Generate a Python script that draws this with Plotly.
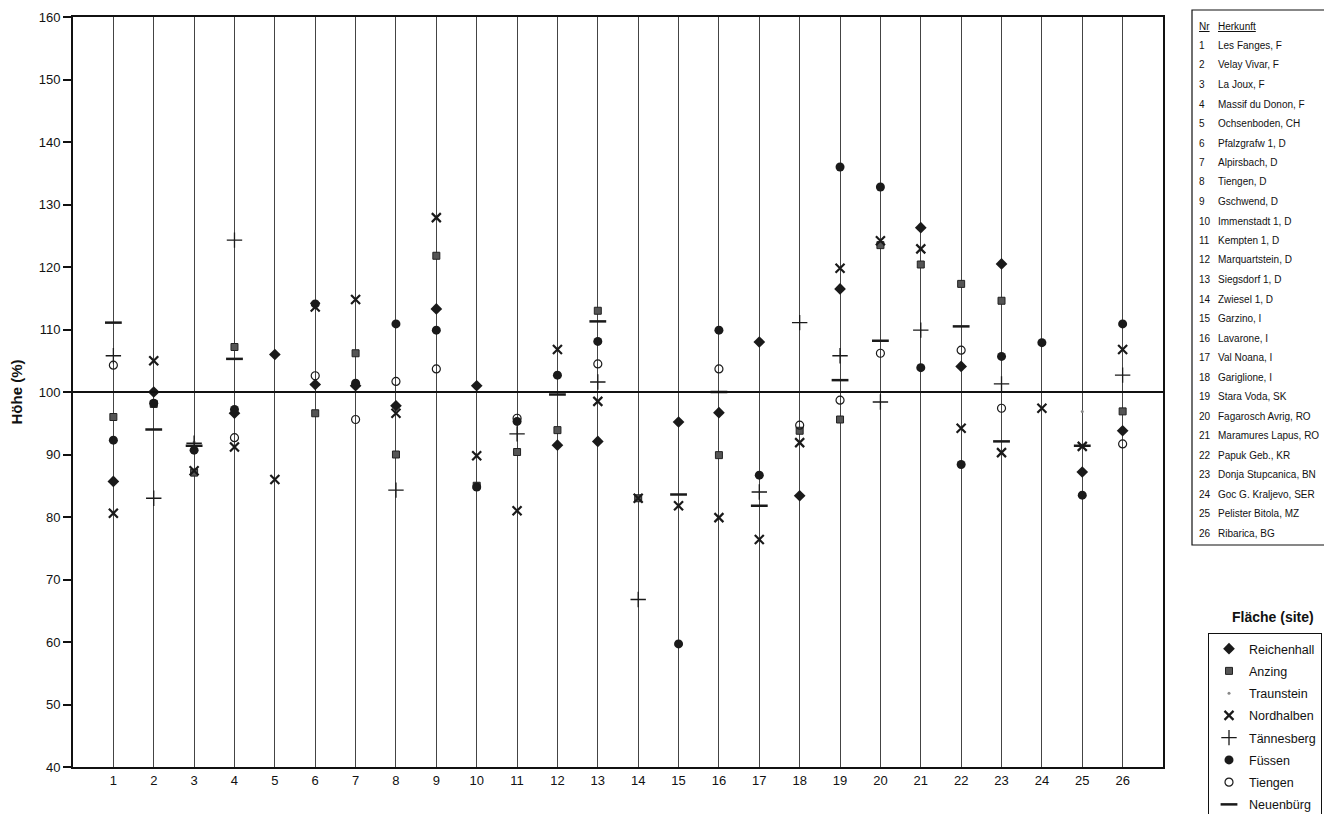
import plotly.graph_objects as go

# ---------------- data ----------------
categories = list(range(1, 27))
N = None
reichenhall = [85.7, 100.0, N, 96.6, 106.0, 101.2, 101.0, 97.8, 113.3, 101.0, N, 91.5, 92.1, N, 95.2, 96.7, 108.0, 83.4, 116.5, N, 126.3, 104.1, 120.5, N, 87.2, 93.8]
anzing      = [96.0, 98.1, 87.1, 107.2, N, 96.6, 106.2, 90.0, 121.8, 85.0, 90.4, 93.9, 113.0, 83.0, N, 89.9, N, 93.8, 95.6, 123.5, 120.4, 117.3, 114.6, N, N, 96.9]
traunstein  = [N, N, 92.0, N, N, N, N, N, N, N, N, N, N, N, N, N, N, N, N, N, N, N, N, N, 96.9, N]
nordhalben  = [80.6, 105.0, 87.4, 91.2, 86.0, 113.6, 114.8, 96.6, 127.9, 89.8, 81.0, 106.8, 98.5, 83.0, 81.8, 79.9, 76.4, 91.9, 119.8, 124.2, 122.9, 94.2, 90.3, 97.4, 91.3, 106.8]
taennesberg = [105.8, 83.0, 91.8, 124.3, N, N, N, 84.3, N, N, 93.3, N, 101.6, 66.8, N, N, 84.0, 111.1, 105.8, 98.4, 109.9, N, 101.3, N, N, 102.7]
fuessen     = [92.3, 98.2, 90.7, 97.2, N, 114.1, 101.4, 110.9, 109.9, 84.8, 95.3, 102.7, 108.1, N, 59.7, 109.9, 86.7, N, 136.0, 132.8, 103.9, 88.4, 105.7, 107.9, 83.5, 110.9]
tiengen     = [104.3, N, N, 92.7, N, 102.6, 95.6, 101.7, 103.7, N, 95.8, N, 104.5, N, N, 103.7, N, 94.7, 98.7, 106.2, N, 106.7, 97.4, N, N, 91.7]
neuenbuerg  = [111.1, 94.0, 91.4, 105.3, N, N, N, N, N, N, N, 99.6, 111.3, N, 83.6, 100.0, 81.8, N, 101.9, 108.2, N, 110.5, 92.1, N, 91.4, N]

y_ticks = list(range(40, 161, 10))

nr_list = [str(i) for i in categories]
herkunft = ["Les Fanges, F", "Velay Vivar, F", "La Joux, F", "Massif du Donon, F", "Ochsenboden, CH",
            "Pfalzgrafw 1, D", "Alpirsbach, D", "Tiengen, D", "Gschwend, D", "Immenstadt 1, D",
            "Kempten 1, D", "Marquartstein, D", "Siegsdorf 1, D", "Zwiesel 1, D", "Garzino, I",
            "Lavarone, I", "Val Noana, I", "Gariglione, I", "Stara Voda, SK", "Fagarosch Avrig, RO",
            "Maramures Lapus, RO", "Papuk Geb., KR", "Donja Stupcanica, BN", "Goc G. Kraljevo, SER",
            "Pelister Bitola, MZ", "Ribarica, BG"]

series = [
    ("Reichenhall", reichenhall, dict(symbol="diamond", size=9, color="#1a1a1a")),
    ("Anzing", anzing, dict(symbol="square", size=7, color="#555555", line=dict(color="#222", width=1))),
    ("Traunstein", traunstein, dict(symbol="circle", size=3, color="#888888")),
    ("Nordhalben", nordhalben, dict(symbol="x-thin", size=9, color="#1a1a1a", line=dict(color="#1a1a1a", width=2.2))),
    ("Tännesberg", taennesberg, dict(symbol="cross-thin", size=11, color="#1a1a1a", line=dict(color="#1a1a1a", width=1.3))),
    ("Füssen", fuessen, dict(symbol="circle", size=9, color="#1a1a1a")),
    ("Tiengen", tiengen, dict(symbol="circle-open", size=8, color="#1a1a1a", line=dict(color="#1a1a1a", width=1.2))),
    ("Neuenbürg", neuenbuerg, dict(symbol="line-ew", size=12, color="#1a1a1a", line=dict(color="#1a1a1a", width=2.5))),
]

fig = go.Figure()
for name, vals, mk in series:
    fig.add_trace(go.Scatter(x=categories, y=vals, mode="markers", name=name,
                             marker=mk, legendgroup=name, cliponaxis=False))

# ---------------- layout ----------------
OFF = 8  # page body margin
L, R, T, B = 73 - OFF, 1163 - OFF, 17 - OFF, 767 - OFF
W, H = 1332 - OFF, 814 - OFF

def px(xs):
    return (xs - OFF - L) / (R - L)

def py(ys):
    return (B - (ys - OFF)) / (B - T)

fig.update_layout(
    width=W, height=H,
    margin=dict(l=L, r=W - R, t=T, b=H - B, pad=0, autoexpand=False),
    paper_bgcolor="white", plot_bgcolor="white",
    font=dict(family="Liberation Sans, Arial, sans-serif", size=13, color="#111"),
    showlegend=True,
    legend=dict(x=px(1208), y=py(633), xanchor="left", yanchor="top",
                bordercolor="#111", borderwidth=1, bgcolor="white",
                font=dict(size=12.5), tracegroupgap=3, itemwidth=30,
                traceorder="grouped"),
)
fig.update_xaxes(range=[0, 27], tickvals=categories, ticktext=[str(c) for c in categories],
                 showgrid=True, gridcolor="#444", gridwidth=1, zeroline=False,
                 showline=True, linecolor="#111", linewidth=2, mirror=True,
                 ticks="", tickfont=dict(size=13), automargin=False)
fig.update_yaxes(range=[40, 160], tickvals=y_ticks, showgrid=False, zeroline=False,
                 showline=True, linecolor="#111", linewidth=2, mirror=True,
                 ticks="outside", ticklen=8, tickwidth=2, tickcolor="#111",
                 tickfont=dict(size=13), automargin=False,
                 title=dict(text="<b>Höhe (%)</b>", font=dict(size=15), standoff=16))

# reference line at 100 %
fig.add_shape(type="line", xref="x", yref="y", x0=0, x1=27, y0=100, y1=100,
              line=dict(color="#111", width=1.8))

# origin table on the right
fig.add_shape(type="rect", xref="paper", yref="paper",
              x0=px(1192), x1=px(1329), y0=py(545), y1=py(10),
              line=dict(color="#111", width=1.2), fillcolor="rgba(0,0,0,0)")
ann = []
ann.append(dict(x=px(1197), y=py(27), xref="paper", yref="paper", text="<u>Nr</u>",
                showarrow=False, xanchor="left", yanchor="middle", font=dict(size=10)))
ann.append(dict(x=px(1216), y=py(27), xref="paper", yref="paper", text="<u>Herkunft</u>",
                showarrow=False, xanchor="left", yanchor="middle", font=dict(size=10)))
row_top, row_step = 45.5, 19.5
for i, (n, h) in enumerate(zip(nr_list, herkunft)):
    yy = row_top + i * row_step
    ann.append(dict(x=px(1197), y=py(yy), xref="paper", yref="paper", text=n,
                    showarrow=False, xanchor="left", yanchor="middle", font=dict(size=10)))
    ann.append(dict(x=px(1216), y=py(yy), xref="paper", yref="paper", text=h,
                    showarrow=False, xanchor="left", yanchor="middle", font=dict(size=10)))
ann.append(dict(x=px(1273), y=py(617), xref="paper", yref="paper", text="<b>Fläche (site)</b>",
                showarrow=False, xanchor="center", yanchor="middle", font=dict(size=14)))
fig.update_layout(annotations=ann)

fig.write_html("out.html")
